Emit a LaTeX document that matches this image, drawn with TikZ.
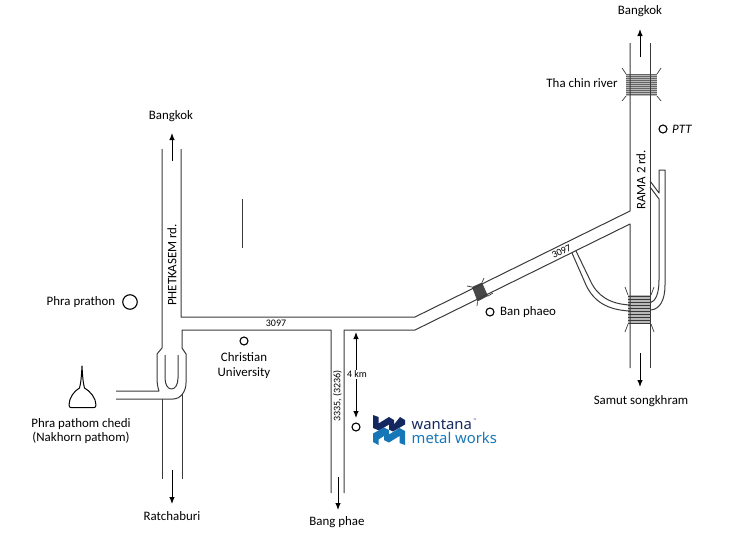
\documentclass[tikz,border=0pt]{standalone}
\usepackage{fontspec}
\setmainfont{Carlito}
\newfontfamily\logofont{Noto Sans}
\usetikzlibrary{arrows.meta}
\definecolor{road}{HTML}{3A3A3A}
\definecolor{navy}{HTML}{14275F}
\definecolor{sky}{HTML}{1577B8}
\tikzset{
 roadline/.style={draw=road,line width=1pt,line join=round},
 dir/.style={draw=black,line width=1pt,-{Latex[length=7pt,width=5.5pt]}},
 both/.style={draw=black,line width=1pt,{Latex[length=7pt,width=5.5pt]}-{Latex[length=7pt,width=5.5pt]}},
 lab/.style={font=\fontsize{12.9}{14.5}\selectfont,text=black,inner sep=0pt,align=center},
 small/.style={font=\fontsize{10}{11}\selectfont,text=black,inner sep=0pt},
 spot/.style={draw=black,line width=1.1pt,circle,fill=white,inner sep=0pt,minimum size=8pt},
 wing/.style={draw=road,line width=0.7pt},
 strand/.style={draw=road,line width=0.55pt},
}
\begin{document}
\begin{tikzpicture}[x=1pt,y=-1pt]
\useasboundingbox (0,0) rectangle (731,538);
% --- bridges (under the roads)
\fill[gray!80!black] (626,74) rectangle (657,96);
\foreach \y in {75,77,...,95} \draw[white!45!gray,line width=0.3pt] (626,\y+0.5) -- (657,\y+0.5);
\draw[wing] (622,68)--(626,74) (661,68)--(657,74) (622,101)--(626,96) (661,101)--(657,96);
\fill[gray!55] (628,295) rectangle (651,324);
\foreach \y in {296,299,...,323} \draw[strand] (628,\y) -- (651,\y);
\draw[wing] (625,287)--(628,295) (654,287)--(651,295) (625,332)--(628,324) (654,332)--(651,324);
\fill[black!72] (472,287) -- (482,282.5) -- (488,296) -- (477.5,301.5) -- cycle;
\draw[wing] (467,286)--(472,287) (484,278)--(482,282.5) (477,306)--(477.5,301.5) (493,293)--(488,296);
% --- Phetkasem road with its interchange
\draw[roadline] (162,149) -- (162,348) -- (157,354) -- (157,378) .. controls (157,384) and (158,388) .. (159,391) -- (116,391);
\draw[roadline] (116,399) -- (173,399) .. controls (181,399) and (186,391) .. (186,383) -- (186,354) -- (182,348) -- (182,330) -- (331,330) -- (331,493);
\draw[roadline] (181,149) -- (181,317) -- (415,317) -- (630,211) -- (630,43);
\draw[roadline] (165,355) -- (165,378) .. controls (165,385) and (168,389) .. (171.5,389) .. controls (175,389) and (178,385) .. (178,378) -- (178,355);
\draw[roadline] (162,399) -- (162,479);
\draw[roadline] (182,394) -- (182,479);
% --- road 3335 and 3097
\draw[roadline] (344,493) -- (344,330) -- (415,330) -- (630,224) -- (630,368);
% --- Rama 2
\draw[roadline] (650,43) -- (650,368);
\draw[roadline] (650,181) -- (659,193) -- (659,170) -- (665,170) -- (665,285) .. controls (665,300) and (660,309) .. (651,310);
\draw[roadline] (650,187) -- (659,199) -- (659,280) .. controls (659,293) and (656,301) .. (650,303);
% --- branch
\draw[roadline] (572,253) -- (586,285) .. controls (594,302) and (608,310) .. (630,311);
\draw[roadline] (576,251) -- (590,280) .. controls (597,296) and (610,304) .. (630,305);
% --- stray line
\draw[draw=road,line width=1pt] (242,199) -- (242,248);
% --- direction arrows
\coordinate (nA) at (640,57); \coordinate (nB) at (640,29);
\coordinate (sA) at (640,353); \coordinate (sB) at (640,387);
\coordinate (wA) at (172,161); \coordinate (wB) at (172,133);
\coordinate (rA) at (172,470); \coordinate (rB) at (172,504);
\coordinate (bA) at (338,477); \coordinate (bB) at (338,510);
\coordinate (kA) at (356,332); \coordinate (kB) at (356,418);
\draw[dir] (nA) -- (nB); \draw[dir] (sA) -- (sB); \draw[dir] (wA) -- (wB);
\draw[dir] (rA) -- (rB); \draw[dir] (bA) -- (bB); \draw[both] (kA) -- (kB);
% --- spots
\node[spot] (ptt) at (663,129) {};
\node[spot] (ban) at (490,312) {};
\node[spot] (chr) at (244,341) {};
\node[spot] (wmw) at (356,427) {};
\node[spot,minimum size=14.5pt] (pra) at (130,302) {};
% --- stupa
\draw[draw=black,line width=1pt,line join=round] (82,366) .. controls (81.5,375) and (81,383) .. (79.5,388) .. controls (74,391) and (69,398) .. (69,405) .. controls (69,407) and (70,407.5) .. (71,407.5) -- (94,407.5) .. controls (95,407.5) and (96,407) .. (96,405) .. controls (96,398) and (90,391) .. (84.5,388) .. controls (83,383) and (82.5,375) .. (82,366) -- cycle;
% --- labels
\node[lab] (l1) at (640,11) {Bangkok};
\node[lab] (l2) at (171,116) {Bangkok};
\node[lab] (l3) at (582,83.5) {Tha chin river};
\node[lab,anchor=west] (l4) at (672,129.5) {\itshape PTT};
\node[lab,rotate=90] (l5) at (641,180) {RAMA 2 rd.};
\node[lab,rotate=90] (l6) at (172,265) {PHETKASEM rd.};
\node[lab,anchor=west] (l7) at (500,312) {Ban phaeo};
\node[lab] (l8) at (641,401) {Samut songkhram};
\node[lab] (l9) at (81,302) {Phra prathon};
\node[lab] (l10) at (81,431) {Phra pathom chedi\\(Nakhorn pathom)};
\node[lab] (l11) at (244,365.5) {Christian\\University};
\node[lab] (l12) at (172,516) {Ratchaburi};
\node[lab] (l13) at (337,522) {Bang phae};
\node[small] (l14) at (276,323.5) {3097};
\node[small,rotate=26] (l15) at (561.5,251.5) {3097};
\node[small,rotate=90] (l16) at (337.5,396) {3335, (3236)};
\node[small,fill=white,inner ysep=1.5pt,inner xsep=0.5pt] (l17) at (357,374.5) {4 km};
% --- logo
\fill[navy] (373,415) -- (378.5,417) -- (378.5,423.5) -- (389,417) -- (394,420) -- (394,424.5) -- (400,417) -- (405,420) -- (405,424.5) -- (393,431.5) -- (389,429.5) -- (389,424.5) -- (379,430.5) -- (373,428) -- cycle;
\fill[sky] (373,433.5) -- (384,427.5) -- (389,430) -- (389,434.5) -- (399.5,428) -- (405,431) -- (405,445) -- (399.5,443) -- (399.5,436) -- (389,442.5) -- (384,440) -- (384,436) -- (378.5,439.5) -- (378.5,445) -- (373,442) -- cycle;
\node[anchor=base west,inner sep=0pt,font=\logofont\fontsize{14.8}{16}\selectfont,text=navy] (w1) at (411.5,429) {wantana};
\node[anchor=base west,inner sep=0pt,font=\logofont\fontsize{14.8}{16}\selectfont,text=sky] (w2) at (411.5,443.5) {metal works};
\node[anchor=base west,inner sep=0pt,font=\logofont\fontsize{3.5}{4}\selectfont,text=navy] (w3) at (473.5,421) {™};
\end{tikzpicture}
\end{document}
